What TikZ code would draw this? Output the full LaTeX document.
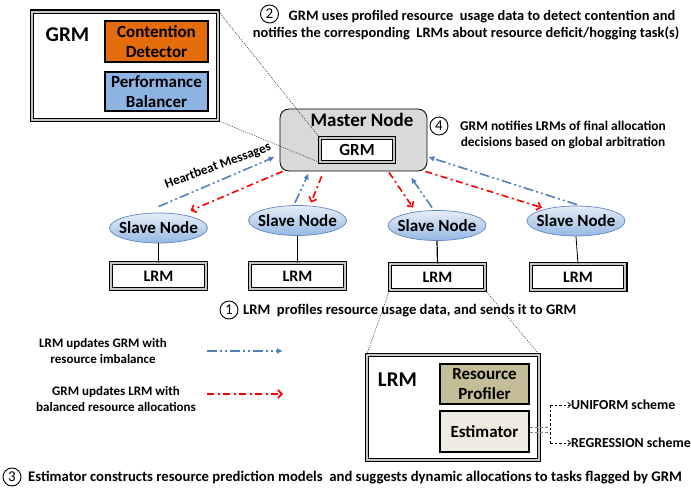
\documentclass[tikz,border=0pt]{standalone}
\usepackage{fontspec}
\setmainfont{Carlito}
\usetikzlibrary{arrows.meta,calc,shapes.geometric}
\definecolor{orangeA}{HTML}{E46C0A}
\definecolor{blueBox}{HTML}{8EB4E3}
\definecolor{tanBox}{HTML}{C4BD97}
\definecolor{creamBox}{HTML}{EEECE1}
\definecolor{masterGray}{HTML}{D9D9D9}
\definecolor{arrBlue}{HTML}{4F81BD}
\definecolor{slaveTop}{HTML}{E6EEF8}
\definecolor{slaveBot}{HTML}{95B8E3}
\definecolor{slaveLine}{HTML}{5F87C2}
\begin{document}
\begin{tikzpicture}[x=1pt,y=-1pt,
  note/.style={font=\bfseries\fontsize{13}{16}\selectfont, inner sep=0pt, align=center},
  boxlbl/.style={font=\bfseries\fontsize{17}{20.5}\selectfont, align=center, inner sep=0pt},
  biglbl/.style={font=\bfseries\fontsize{21}{24}\selectfont, inner sep=0pt},
  frame/.style={draw=black, line width=1.1pt, double=gray!45, double distance=2.2pt, fill=white, inner sep=0pt},
  inbox/.style={draw=black, line width=1.2pt, inner sep=0pt, align=center, font=\bfseries\fontsize{17}{20.5}\selectfont},
  numcirc/.style={circle, draw, line width=0.9pt, minimum size=18pt, inner sep=0pt, font=\fontsize{15}{15}\selectfont},
  slave/.style={ellipse, draw=slaveLine, line width=0.7pt, top color=slaveTop, bottom color=slaveBot, minimum width=98pt, minimum height=30pt, inner sep=0pt,
    label={[boxlbl]center:Slave Node}},
  bluearr/.style={draw=arrBlue, line width=1.6pt, dash pattern=on 10pt off 3pt on 2pt off 3pt on 2pt off 3pt, -{Latex[length=6pt,width=6pt]}},
  redarr/.style={draw=red, line width=1.6pt, dash pattern=on 7pt off 3.5pt on 2pt off 3.5pt, -{Straight Barb[length=4pt,width=8pt,line width=1.6pt]}},
  dotline/.style={draw=black!80, line width=0.5pt, dash pattern=on 1.2pt off 1.2pt},
  plain/.style={draw=black, line width=1.2pt}
]
\useasboundingbox (0,0) rectangle (691,489);

% ---- big GRM detail box
\node[frame, minimum width=185.6pt, minimum height=108.6pt] (bigGRM) at (125,66) {};
\node[biglbl] (grmlbl) at (67.5,35) {GRM};
\node[inbox, fill=orangeA, minimum width=103pt, minimum height=41pt] (cd) at (156.5,41.5) {Contention\\Detector};
\node[inbox, fill=blueBox, minimum width=103pt, minimum height=39pt] (pb) at (156.5,91.5) {Performance\\Balancer};

% ---- annotation 2
\node[numcirc] (n2) at (269.5,14) {2};
\node[note, font=\bfseries\fontsize{14.4}{17}\selectfont] (t2a) at (482,17) {GRM uses profiled resource\ \ usage data to detect contention and};
\node[note, font=\bfseries\fontsize{14.4}{17}\selectfont] (t2b) at (466,33) {notifies the corresponding\ \ LRMs about resource deficit/hogging task(s)};

% ---- master node
\node[draw=black, line width=0.8pt, fill=masterGray, rounded corners=9pt, minimum width=147pt, minimum height=62pt, inner sep=0pt] (master) at (353.5,140) {};
\node[font=\bfseries\fontsize{19}{23}\selectfont, inner sep=0pt] (mlbl) at (362,120) {Master Node};
\node[frame, minimum width=73.6pt, minimum height=23.6pt, font=\bfseries\fontsize{17}{20}\selectfont] (grm) at (357,150) {GRM};

% ---- annotation 4
\node[numcirc] (n4) at (439,126) {4};
\node[note, font=\bfseries\fontsize{13.4}{16}\selectfont] (t4) at (563,135) {GRM notifies LRMs of final allocation\\decisions based on global arbitration};

% dotted zoom lines
\draw[dotline] (bigGRM.north east) -- (grm.north west);
\draw[dotline] (bigGRM.south east) -- (grm.south west);

% heartbeat label
\node[font=\bfseries\fontsize{13.2}{15}\selectfont, rotate=20, inner sep=0pt] (hb) at (218,166) {Heartbeat Messages};

% ---- slave nodes
\node[slave] (s1) at (158.5,228) {};
\node[slave] (s2) at (297.5,220.5) {};
\node[slave] (s3) at (437,225.5) {};
\node[slave] (s4) at (576,221) {};

% ---- LRM boxes
\node[frame, minimum width=94.6pt, minimum height=25.6pt, font=\bfseries\fontsize{16}{19}\selectfont] (l1) at (158.5,276) {LRM};
\node[frame, minimum width=94.6pt, minimum height=25.6pt, font=\bfseries\fontsize{16}{19}\selectfont] (l2) at (297.5,276) {LRM};
\node[frame, minimum width=94.6pt, minimum height=25.6pt, font=\bfseries\fontsize{16}{19}\selectfont] (l3) at (437.5,277) {LRM};
\node[frame, minimum width=94.6pt, minimum height=25.6pt, font=\bfseries\fontsize{16}{19}\selectfont] (l4) at (578,277) {LRM};

\draw[plain] (s1.south) -- (l1.north);
\draw[plain] (s2.south) -- (l2.north);
\draw[plain] (s3.south) -- (l3.north);
\draw[draw=black, line width=0.8pt] (s4.south) -- (l4.north);

% ---- message arrows
\draw[bluearr] ($(s1.north)+(0,-6)$) -- ($(master.west)+(-5,17)$);
\draw[redarr] ($(master.south west)+(3,0)$) -- ($(s1.north)+(32,-2)$);
\draw[bluearr] ($(s2.north)+(-2.5,-2.5)$) -- ($(master.south west)+(29,2)$);
\draw[redarr] ($(master.south west)+(42,5)$) -- ($(s2.north)+(13.5,-2.5)$);
\draw[redarr] ($(master.south)+(35.5,1)$) -- ($(s3.north)+(-24,-2.5)$);
\draw[bluearr] ($(s3.north)+(-5,-2.5)$) -- ($(master.south)+(57.5,6)$);
\draw[redarr] ($(master.south east)+(-2,0)$) -- ($(s4.north)+(-34,2)$);
\draw[bluearr] ($(s4.north)+(1,-1)$) -- ($(master.east)+(1,17)$);

% ---- annotation 1
\node[numcirc] (n1) at (229,310) {1};
\node[note, anchor=west, font=\bfseries\fontsize{14.6}{17}\selectfont] (t1) at (243,311) {LRM\ \ profiles resource usage data, and sends it to GRM};

% ---- legend
\node[note] (lg1) at (103,351) {LRM updates GRM with\\resource imbalance};
\node[note] (lg2) at (116,399) {GRM updates LRM with\\balanced resource allocations};
\coordinate (lga) at (207,351);
\coordinate (lgb) at (283,351);
\coordinate (lgc) at (207,394);
\coordinate (lgd) at (283,394);
\draw[bluearr] (lga) -- (lgb);
\draw[redarr] (lgc) -- (lgd);

% ---- big LRM detail box
\node[frame, minimum width=171.6pt, minimum height=104.6pt] (bigLRM) at (453,407.5) {};
\draw[dotline] (l3.south west) -- (bigLRM.north west);
\draw[dotline] (l3.south east) -- (bigLRM.north east);
\node[biglbl] (lrmlbl) at (397.5,380) {LRM};
\node[inbox, fill=tanBox, minimum width=89pt, minimum height=40pt] (rp) at (484.5,384) {Resource\\Profiler};
\node[inbox, fill=creamBox, minimum width=89pt, minimum height=41pt] (est) at (484.5,431.5) {Estimator};

% estimator schemes
\node[note, anchor=west, font=\bfseries\fontsize{13.8}{16}\selectfont] (uni) at (571,405) {UNIFORM scheme};
\node[note, anchor=west, font=\bfseries\fontsize{13.8}{16}\selectfont] (reg) at (571,443) {REGRESSION scheme};
\coordinate (vtop) at (550,405);
\coordinate (vbot) at (550,443);
\draw[draw=gray, line width=0.8pt, dash pattern=on 3pt off 2pt] ($(est.east)+(0,-4.5)$) -- ($(vtop|-est.east)+(-2,-4.5)$);
\draw[draw=gray, line width=0.8pt, dash pattern=on 3pt off 2pt] ($(est.east)+(0,0.5)$) -- ($(vtop|-est.east)+(-2,0.5)$);
\draw[draw=black, line width=0.6pt, dash pattern=on 2.5pt off 2pt] (vtop) -- (vbot);
\draw[draw=black, line width=0.6pt, dash pattern=on 2.5pt off 2pt, -{Straight Barb[length=3pt,width=6pt]}] (vtop) -- (uni.west);
\draw[draw=black, line width=0.6pt, dash pattern=on 2.5pt off 2pt, -{Straight Barb[length=3pt,width=6pt]}] (vbot) -- (reg.west);

% ---- annotation 3
\node[numcirc] (n3) at (12,477) {3};
\node[note, anchor=west, font=\bfseries\fontsize{14.7}{17}\selectfont] (t3) at (28,478) {Estimator constructs resource prediction models\ \ and suggests dynamic allocations to tasks flagged by GRM};
\end{tikzpicture}
\end{document}
